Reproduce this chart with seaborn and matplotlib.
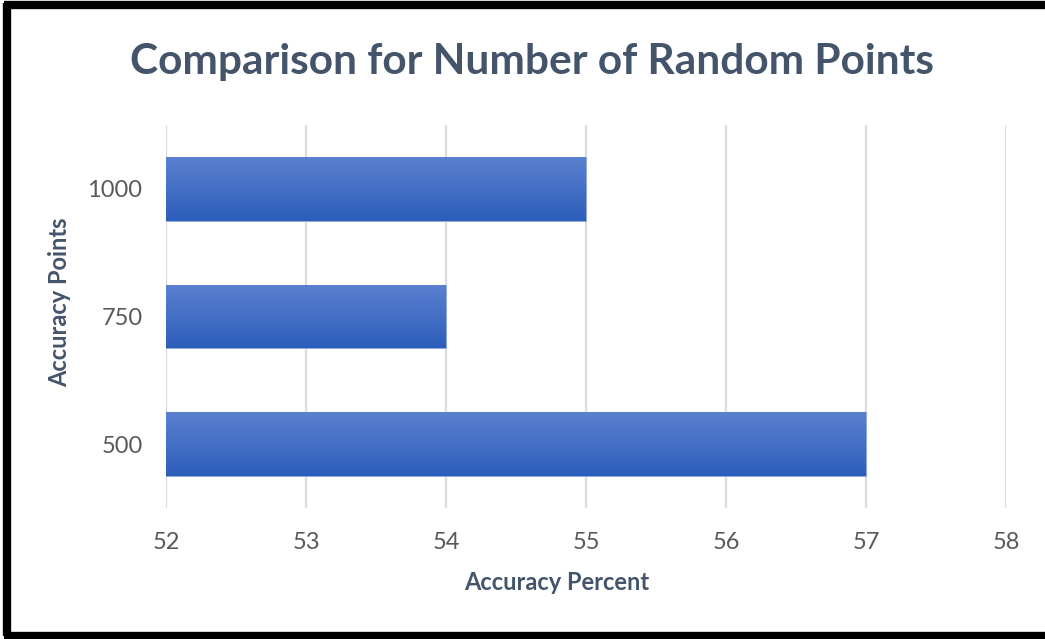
import numpy as np
import pandas as pd
import matplotlib
matplotlib.use("Agg")
import matplotlib.pyplot as plt
from matplotlib.colors import LinearSegmentedColormap
import seaborn as sns

# Data
points = ["1000", "750", "500"]
accuracy = [55, 54, 57]
x_ticks = [52, 53, 54, 55, 56, 57, 58]

title = "Comparison for Number of Random Points"
x_label = "Accuracy Percent"
y_label = "Accuracy Points"

df = pd.DataFrame({"points": points, "accuracy": accuracy})

sns.set_theme(style="white")
plt.rcParams["font.family"] = ["Lato", "DejaVu Sans"]

fig = plt.figure(figsize=(10.45, 6.39), dpi=100)
ax = fig.add_axes([0.1589, 0.205, 0.8038, 0.5994])

sns.barplot(data=df, x="accuracy", y="points", order=points, orient="h",
            color="#4472C4", width=0.5, ax=ax, zorder=3)

ax.set_xlim(x_ticks[0], x_ticks[-1])
ax.set_xticks(x_ticks)
ax.set_ylim(2.5, -0.5)

# Vertical gradient fill on each bar
grad_cmap = LinearSegmentedColormap.from_list(
    "bar_grad", ["#5B80CF", "#4470C5", "#2C5DBA"])
grad = np.linspace(0, 1, 256).reshape(-1, 1)
for patch in ax.patches:
    x0, y0 = patch.get_x(), patch.get_y()
    w, h = patch.get_width(), patch.get_height()
    # bars start at the left axis limit
    left = max(x0, x_ticks[0])
    img = ax.imshow(grad, cmap=grad_cmap, aspect="auto",
                    extent=(left, x0 + w, y0 + h, y0), zorder=4,
                    interpolation="bicubic")
    img.set_clip_path(patch)
    patch.set_edgecolor("#8FA9DD")
    patch.set_linewidth(0.6)
ax.set_xlim(x_ticks[0], x_ticks[-1])
ax.set_ylim(2.5, -0.5)

ax.grid(axis="x", color="#D9DCE3", linewidth=1.6, zorder=0)
ax.grid(axis="y", visible=False)
ax.set_axisbelow(True)
sns.despine(ax=ax, left=True, bottom=True, top=True, right=True)

ax.tick_params(axis="both", length=0, labelsize=17, colors="#595959")
ax.tick_params(axis="x", pad=17)
ax.tick_params(axis="y", pad=17)

ax.set_xlabel("")
ax.set_ylabel("")
fig.text(557 / 1045, 1 - 582 / 639, x_label, ha="center", va="center",
         fontsize=17, fontweight="bold", color="#44546A")
fig.text(60 / 1045, 1 - 302 / 639, y_label, ha="center", va="center",
         rotation=90, fontsize=17, fontweight="bold", color="#44546A")
fig.text(532 / 1045, 1 - 62 / 639, title, ha="center", va="center",
         fontsize=30.5, fontweight="bold", color="#44546A")

# Frame around the figure (left, top and bottom edges)
frame_kw = dict(color="black", linewidth=6, solid_capstyle="butt",
                transform=fig.transFigure, zorder=10)
fig.add_artist(plt.Line2D([7 / 1045, 7 / 1045], [1 - 3 / 639, 3 / 639], **frame_kw))
fig.add_artist(plt.Line2D([4 / 1045, 1], [1 - 5 / 639, 1 - 5 / 639], **frame_kw))
fig.add_artist(plt.Line2D([4 / 1045, 1], [3 / 639, 3 / 639], **frame_kw))

fig.savefig("out.png", dpi=100, facecolor="white")
